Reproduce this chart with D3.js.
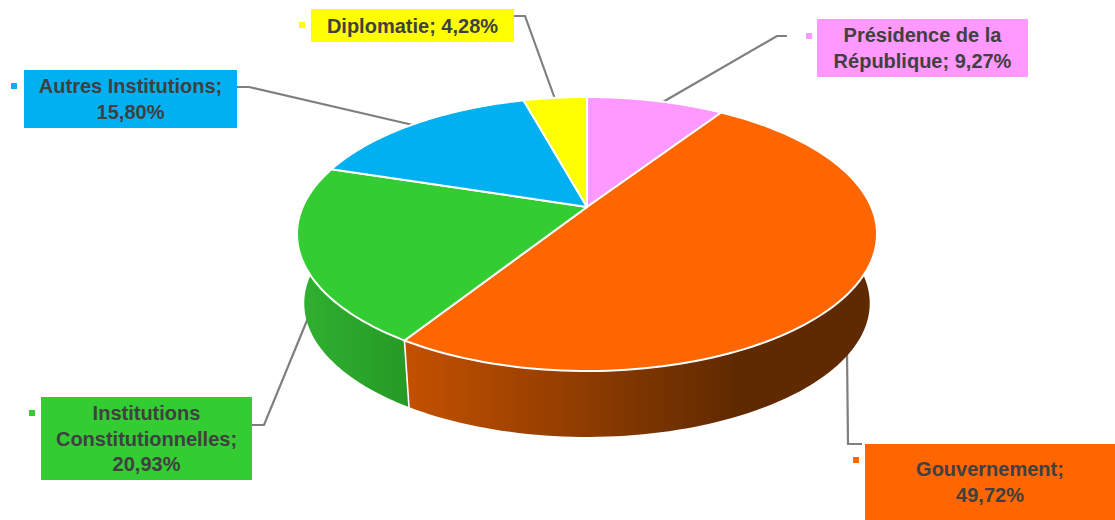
<!DOCTYPE html>
<html><head><meta charset="utf-8">
<script src="https://cdnjs.cloudflare.com/ajax/libs/d3/7.8.5/d3.min.js"></script>
<style>html,body{margin:0;padding:0;background:#fff;overflow:hidden}svg{display:block}</style>
</head><body><svg id="c" width="1115" height="520"></svg>
<script>
const categories = ["Présidence de la République","Gouvernement","Institutions Constitutionnelles","Autres Institutions","Diplomatie"];
const shares = [9.27,49.72,20.93,15.80,4.28];
const valueLabels = ["9,27%","49,72%","20,93%","15,80%","4,28%"];
const colors = ["#FF99FF","#FF6600","#33CC33","#00B0F0","#FFFF00"];
const labelLines = [["Présidence de la","République; 9,27%"],["Gouvernement;","49,72%"],["Institutions","Constitutionnelles;","20,93%"],["Autres Institutions;","15,80%"],["Diplomatie; 4,28%"]];

// layout
const boxes = [[817,19,211,58],[865,444,250,76],[41,397,211,83],[24,70,213,58],[311,9,203,33]];
const markers = [[806,33],[853,457],[29,410],[11,83],[299,22]];
const leaders = [
  [[787,36],[777,36],[656,106]],
  [[847,351],[848,444],[862,444]],
  [[252,425],[264,425],[308,318]],
  [[237,87],[249,87],[413,125]],
  [[514,16],[525,16],[555,99]]
];
const tilt = 0.197, cx = 587, apexY = 207, bottomApexY = 277, bottomScale = 0.975;
const sx = d3.scaleLinear().domain([-1,1]).range([cx-284.3,cx+284.3]);
const sy = d3.scaleLinear().domain([-1,1]).range([apexY+131.7,apexY-131.7]);

function rim(a){ const X=Math.sin(a),Y=Math.cos(a),w=1+tilt*Y; return [X/w,Y/w]; }
const topPt = a=>{const [u,v]=rim(a);return [sx(u),sy(v)];};
const botPt = a=>{const [u,v]=rim(a);return [cx+(sx(u)-cx)*bottomScale,bottomApexY+(sy(v)-apexY)*bottomScale];};
const arcSamples=(a0,a1)=>d3.range(0,121).map(i=>a0+(a1-a0)*i/120);
const poly=d3.line();

const arcs=d3.pie().value(d=>d).sort(null).startAngle(0).endAngle(2*Math.PI)(shares);
const svg=d3.select("#c");
const defs=svg.append("defs");
const wallGrad=[
  {id:"wall1",x1:411,x2:735,stops:["#C25000","#602A00"]},
  {id:"wall2",x1:300,x2:411,stops:["#30B030","#259A25"]}
];
wallGrad.forEach(g=>{
  const lg=defs.append("linearGradient").attr("id",g.id).attr("gradientUnits","userSpaceOnUse")
    .attr("x1",g.x1).attr("x2",g.x2).attr("y1",0).attr("y2",0);
  lg.selectAll("stop").data(g.stops).join("stop").attr("offset",(d,i)=>i).attr("stop-color",d=>d);
});

// leader lines under the pie
svg.append("g").selectAll("path").data(leaders).join("path")
  .attr("d",d=>poly(d)).attr("fill","none").attr("stroke","#7F7F7F").attr("stroke-width",2.2);

// walls
svg.append("g").selectAll("path").data([arcs[1],arcs[2]]).join("path")
  .attr("d",d=>{
    const s=arcSamples(d.startAngle,d.endAngle);
    return poly(s.map(topPt).concat(s.slice().reverse().map(botPt)))+"Z";
  })
  .attr("fill",(d,i)=>`url(#wall${i+1})`);
// divider between the two visible walls
svg.append("line").datum(arcs[1].endAngle)
  .attr("x1",d=>topPt(d)[0]).attr("y1",d=>topPt(d)[1])
  .attr("x2",d=>botPt(d)[0]).attr("y2",d=>botPt(d)[1])
  .attr("stroke","#fff").attr("stroke-width",1.6);

// top face
svg.append("g").selectAll("path").data(arcs).join("path")
  .attr("d",d=>{
    const s=arcSamples(d.startAngle,d.endAngle).map(topPt);
    return poly([[cx,apexY]].concat(s))+"Z";
  })
  .attr("fill",(d,i)=>colors[i]).attr("stroke","#fff").attr("stroke-width",2).attr("stroke-linejoin","round");

// labels
const lab=svg.append("g").selectAll("g").data(categories).join("g");
lab.append("rect").attr("x",(d,i)=>boxes[i][0]).attr("y",(d,i)=>boxes[i][1])
  .attr("width",(d,i)=>boxes[i][2]).attr("height",(d,i)=>boxes[i][3]).attr("fill",(d,i)=>colors[i]);
lab.append("rect").attr("x",(d,i)=>markers[i][0]).attr("y",(d,i)=>markers[i][1])
  .attr("width",6).attr("height",6).attr("fill",(d,i)=>colors[i]);
lab.each(function(d,i){
  const b=boxes[i],L=labelLines[i],lh=25.5;
  const startY=b[1]+b[3]/2-(L.length-1)*lh/2+7;
  d3.select(this).selectAll("text").data(L).join("text")
    .attr("x",b[0]+b[2]/2).attr("y",(t,j)=>startY+j*lh)
    .attr("text-anchor","middle").attr("fill","#404040")
    .attr("font-family","'Liberation Sans',Arial,sans-serif").attr("font-weight","bold").attr("font-size",20)
    .text(t=>t);
});
</script></body></html>
